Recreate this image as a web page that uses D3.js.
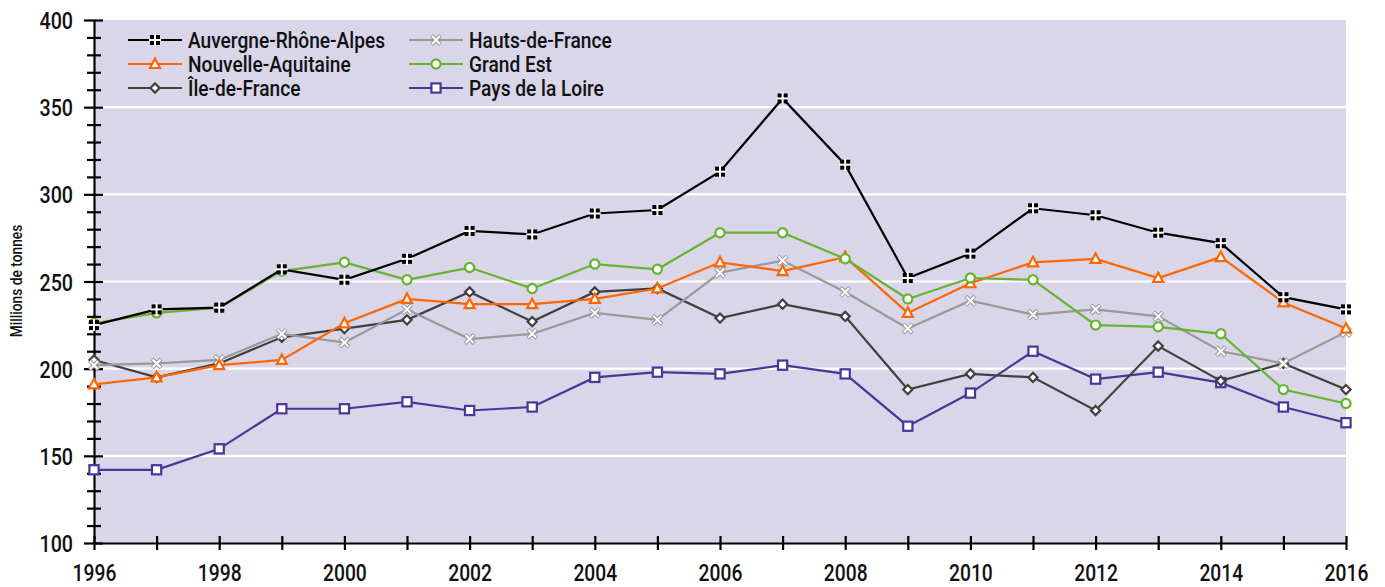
<!DOCTYPE html>
<html><head><meta charset="utf-8">
<script src="https://cdn.jsdelivr.net/npm/d3@7"></script>
<style>
html,body{margin:0;padding:0;background:#fff;}
svg{display:block;}
text{font-family:Roboto,"Liberation Sans",sans-serif;fill:#111;font-weight:500;}
</style></head>
<body>
<svg id="chart" width="1385" height="587"></svg>
<script>
const years = d3.range(1996, 2017);
const yTicks = [100,150,200,250,300,350,400];
const xTickLabels = [1996,1998,2000,2002,2004,2006,2008,2010,2012,2014,2016];
const seriesNames = ["Auvergne-Rhône-Alpes","Hauts-de-France","Nouvelle-Aquitaine","Grand Est","Île-de-France","Pays de la Loire"];
const auvergne = [225,234,235,257,251,263,279,277,289,291,313,355,317,252,266,292,288,278,272,241,234];
const hauts = [202,203,205,220,215,234,217,220,232,228,255,262,244,223,239,231,234,230,210,203,221];
const nouvelle = [191,195,202,205,226,240,237,237,240,246,261,256,264,232,249,261,263,252,264,238,223];
const grandEst = [226,232,235,256,261,251,258,246,260,257,278,278,263,240,252,251,225,224,220,188,180];
const ileDeFrance = [205,195,203,218,223,228,244,227,244,246,229,237,230,188,197,195,176,213,193,203,188];
const paysLoire = [142,142,154,177,177,181,176,178,195,198,197,202,197,167,186,210,194,198,192,178,169];

const SX = 0.82; // horizontal condensing of tick text
const svg = d3.select("#chart");
const x = d3.scaleLinear().domain([1996,2016]).range([94,1346]);
const y = d3.scaleLinear().domain([100,400]).range([543,20]);

// background
svg.append("rect").attr("x",x(1996)).attr("y",y(400)).attr("width",x(2016)-x(1996)).attr("height",y(100)-y(400)).attr("fill","#d9d6e9");
// grid
svg.append("g").selectAll("line").data(yTicks.filter(d=>d>100&&d<400)).join("line")
  .attr("x1",x(1996)).attr("x2",x(2016)).attr("y1",d=>y(d)).attr("y2",d=>y(d))
  .attr("stroke","#fff").attr("stroke-width",2.2);

// y axis
const yMinor = d3.range(100,401,10);
const yAxis = svg.append("g").attr("transform",`translate(${x(1996)},0)`)
  .call(d3.axisLeft(y).tickValues(yMinor).tickSize(0).tickFormat(d=>yTicks.includes(d)?d:""));
yAxis.select(".domain").attr("stroke","#000").attr("stroke-width",2.2);
yAxis.selectAll(".tick line").attr("x1",d=>yTicks.includes(d)?9:7).attr("x2",d=>yTicks.includes(d)?-10:-7).attr("stroke","#000").attr("stroke-width",2.2);
yAxis.selectAll(".tick text").attr("x",-21/SX).attr("dy","0.36em").attr("transform",`scale(${SX},1)`)
  .style("font-size","24px").style("fill","#111");

// x axis
const xAxis = svg.append("g").attr("transform",`translate(0,${y(100)})`)
  .call(d3.axisBottom(x).tickValues(years).tickSize(0).tickFormat(d=>xTickLabels.includes(d)?d:""));
xAxis.select(".domain").attr("stroke","#000").attr("stroke-width",2.2);
xAxis.selectAll(".tick line").attr("y1",-7).attr("y2",7).attr("stroke","#000").attr("stroke-width",2.2);
xAxis.selectAll(".tick text").attr("y",38.5).attr("dy",0).attr("transform",`scale(${SX},1)`)
  .style("font-size","23.5px").style("fill","#111");

// y label
svg.append("text").attr("transform","translate(22,281) rotate(-90) scale(0.86,1)").attr("text-anchor","middle")
  .style("font-size","16px").text("Millions de tonnes");

const series = [
  {name:"Auvergne-Rhône-Alpes", values:auvergne, color:"#000000", marker:"cross"},
  {name:"Hauts-de-France", values:hauts, color:"#999999", marker:"x"},
  {name:"Nouvelle-Aquitaine", values:nouvelle, color:"#ff6600", marker:"triangle"},
  {name:"Grand Est", values:grandEst, color:"#66b32e", marker:"circle"},
  {name:"Île-de-France", values:ileDeFrance, color:"#404040", marker:"diamond"},
  {name:"Pays de la Loire", values:paysLoire, color:"#4b3597", marker:"square"}
];
const drawOrder = [5,4,1,2,3,0];

function drawMarker(g, type, color){
  if(type==="cross"){
    g.append("rect").attr("x",-5).attr("y",-5).attr("width",10).attr("height",10).attr("fill","#000");
    g.append("rect").attr("x",-1).attr("y",-6).attr("width",2).attr("height",12).attr("fill","#fff");
    g.append("rect").attr("x",-6).attr("y",-1).attr("width",12).attr("height",2).attr("fill","#fff");
  } else if(type==="x"){
    g.append("path").attr("d","M-4.5,-4.5L4.5,4.5M-4.5,4.5L4.5,-4.5").attr("stroke",color).attr("stroke-width",4);
    g.append("path").attr("d","M-4,-4L4,4M-4,4L4,-4").attr("stroke","#fff").attr("stroke-width",2);
  } else if(type==="triangle"){
    g.append("path").attr("d","M0,-5.5L5,4L-5,4Z").attr("fill","#fff").attr("stroke",color).attr("stroke-width",2.2);
  } else if(type==="circle"){
    g.append("circle").attr("r",4.6).attr("fill","#fff").attr("stroke",color).attr("stroke-width",2.2);
  } else if(type==="diamond"){
    g.append("path").attr("d","M0,-4.6L4.6,0L0,4.6L-4.6,0Z").attr("fill","#fff").attr("stroke",color).attr("stroke-width",2.2);
  } else if(type==="square"){
    g.append("rect").attr("x",-4.6).attr("y",-4.6).attr("width",9.2).attr("height",9.2).attr("fill","#fff").attr("stroke",color).attr("stroke-width",2.2);
  }
}

const line = d3.line().x((d,i)=>x(years[i])).y(d=>y(d));
drawOrder.forEach(k=>{
  const s = series[k];
  const g = svg.append("g");
  g.append("path").datum(s.values).attr("d",line).attr("fill","none").attr("stroke",s.color).attr("stroke-width",2.2);
  s.values.forEach((v,i)=>{
    const m = g.append("g").attr("transform",`translate(${x(years[i])},${y(v)})`);
    drawMarker(m, s.marker, s.color);
  });
});

// legend
const legend = svg.append("g");
series.forEach((s,i)=>{
  const col = i%2, row = Math.floor(i/2);
  const lx = col===0 ? 128 : 409;
  const ly = 40 + row*24;
  const g = legend.append("g").attr("transform",`translate(${lx},${ly})`);
  g.append("line").attr("x1",0).attr("x2",54).attr("y1",0).attr("y2",0).attr("stroke",s.color).attr("stroke-width",2.2);
  const m = g.append("g").attr("transform","translate(27,0)");
  drawMarker(m, s.marker, s.color);
  g.append("text").attr("transform",`translate(60,0) scale(0.87,1)`).attr("dy","0.36em").style("font-size","22px").text(s.name);
});
</script>
</body></html>
